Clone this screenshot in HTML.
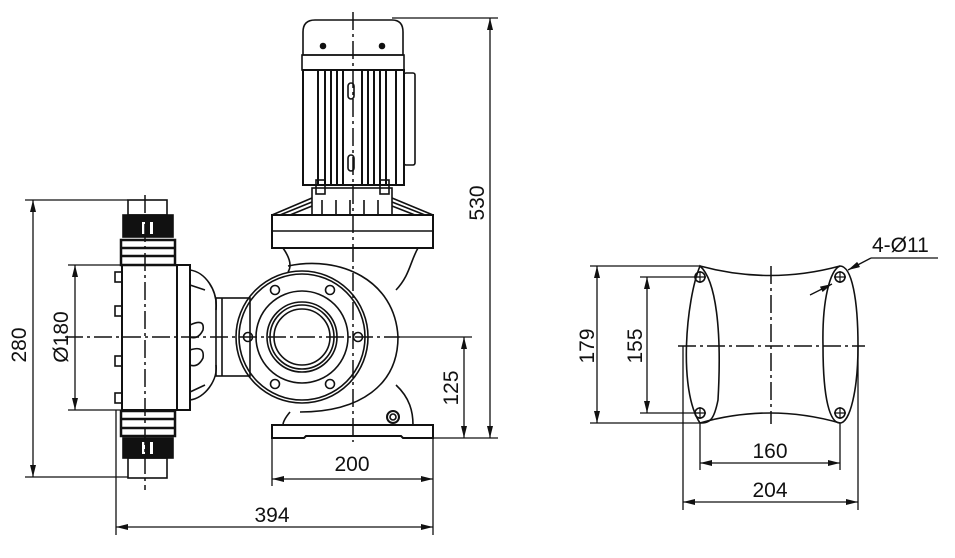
<!DOCTYPE html>
<html><head><meta charset="utf-8"><style>
html,body{margin:0;padding:0;background:#fff}
svg{display:block}
text{font-family:"Liberation Sans",sans-serif;font-size:21px;fill:#111}
</style></head><body>
<svg width="955" height="558" viewBox="0 0 955 558" xmlns="http://www.w3.org/2000/svg">
<defs>
<marker id="a" viewBox="0 0 12 6" refX="12" refY="3" markerWidth="12" markerHeight="6" orient="auto-start-reverse" markerUnits="userSpaceOnUse"><path d="M0,0 L12,3 L0,6 Z" fill="#111"/></marker>
</defs>
<g fill="none" stroke="#111" stroke-width="1.6">
<!-- motor -->
<path d="M303,55 L303,32 Q303,20 315,20 L392,20 Q403,20 403,32 L403,55 Z"/>
<rect x="302" y="55" width="102" height="15"/>
<rect x="303" y="70" width="101" height="115" stroke-width="2"/>
<rect x="404" y="73" width="11" height="92" rx="2"/>
<g stroke-width="2">
<line x1="318" y1="70" x2="318" y2="185"/><line x1="325" y1="70" x2="325" y2="185"/>
<line x1="331" y1="70" x2="331" y2="185"/><line x1="337" y1="70" x2="337" y2="185"/>
<line x1="343" y1="70" x2="343" y2="185"/><line x1="362" y1="70" x2="362" y2="185"/>
<line x1="368" y1="70" x2="368" y2="185"/><line x1="374" y1="70" x2="374" y2="185"/>
<line x1="380" y1="70" x2="380" y2="185"/><line x1="386" y1="70" x2="386" y2="185"/>
<line x1="396" y1="70" x2="396" y2="185"/>
</g>
<rect x="348" y="83" width="6" height="16" rx="3"/><rect x="348" y="155" width="6" height="16" rx="3"/>
<circle cx="323" cy="46" r="2.5" fill="#111"/><circle cx="382" cy="46" r="2.5" fill="#111"/>
<rect x="312" y="188" width="80" height="27"/>
<rect x="316" y="180" width="9" height="14"/><rect x="380" y="180" width="9" height="14"/>
<path d="M322,215 V200 M336,215 V200 M350,215 V200 M364,215 V200 M378,215 V200"/>
<path d="M272,215 L312,198 M280,215 L312,202 M290,215 L312,206 M433,215 L392,198 M425,215 L392,202 M415,215 L392,206"/>
<rect x="272" y="215" width="161" height="33" stroke-width="2"/>
<line x1="272" y1="231" x2="433" y2="231"/>
<!-- housing volute -->
<path d="M283,248 C290,258 292,266 288,272 M418,248 C410,262 410,275 396,290"/>
<path d="M288,266 C340,255 395,280 398,337 C398,385 360,412 300,412"/>
<path d="M396,385 C410,398 413,412 413,425 M290,412 C285,418 283,422 283,425"/>
<circle cx="302" cy="337" r="66"/><circle cx="302" cy="337" r="63"/>
<circle cx="302" cy="337" r="46"/>
<circle cx="302" cy="337" r="35"/><circle cx="302" cy="337" r="32"/><circle cx="302" cy="337" r="28"/>
<circle cx="275" cy="290" r="4.5"/><circle cx="330" cy="290" r="4.5"/>
<circle cx="248" cy="337" r="4.5"/><circle cx="358" cy="337" r="4.5"/>
<circle cx="275" cy="384" r="4.5"/><circle cx="330" cy="384" r="4.5"/>
<circle cx="393" cy="417" r="6" stroke-width="2"/><circle cx="393" cy="417" r="3"/>
<!-- base plate -->
<path d="M272,425 H433 V438 H403 L401,436 H306 L304,438 H272 Z" stroke-width="2"/>
<!-- neck -->
<rect x="216" y="298" width="34" height="78"/><line x1="222" y1="298" x2="222" y2="376"/>
<!-- lobes -->
<path d="M190,270 C205,272 218,290 216,310 M190,400 C205,398 218,380 216,365"/>
<path d="M190,285 L205,290 M190,325 Q205,318 203,330 Q198,340 190,337 M190,350 Q205,345 203,358 Q198,368 190,365 M190,392 L205,385"/>
<!-- head -->
<rect x="122" y="265" width="68" height="145" stroke-width="2"/>
<line x1="177" y1="265" x2="177" y2="410" stroke-width="2"/>
<rect x="115" y="272" width="7" height="10"/><rect x="115" y="306" width="7" height="10"/>
<rect x="115" y="356" width="7" height="10"/><rect x="115" y="393" width="7" height="10"/>
<!-- top valve -->
<rect x="128" y="200" width="39" height="15"/>
<rect x="123" y="215" width="50" height="22" fill="#111"/>
<rect x="121" y="240" width="54" height="25" stroke-width="2.5"/>
<path d="M121,248 H175 M121,256 H175" stroke-width="2.5"/>
<!-- bottom valve -->
<rect x="121" y="411" width="54" height="25" stroke-width="2.5"/>
<path d="M121,419 H175 M121,428 H175" stroke-width="2.5"/>
<rect x="123" y="438" width="50" height="20" fill="#111"/>
<rect x="128" y="458" width="39" height="20"/>
</g>
<g fill="#fff"><rect x="142" y="222" width="3" height="12"/><rect x="150" y="222" width="3" height="12"/><rect x="142" y="442" width="3" height="12"/><rect x="150" y="442" width="3" height="12"/></g>
<!-- center lines -->
<g stroke="#111" stroke-width="1.5" stroke-dasharray="18,4,3,4" fill="none">
<line x1="353" y1="12" x2="353" y2="442"/>
<line x1="145" y1="195" x2="145" y2="490"/>
<line x1="65" y1="337" x2="400" y2="337"/>
<line x1="678" y1="346" x2="865" y2="346"/>
<line x1="771" y1="266" x2="771" y2="424"/>
</g>
<!-- dims left -->
<g stroke="#111" stroke-width="1.3" fill="none">
<line x1="25" y1="200" x2="128" y2="200"/><line x1="25" y1="477" x2="128" y2="477"/>
<line x1="33" y1="200" x2="33" y2="477" marker-start="url(#a)" marker-end="url(#a)"/>
<line x1="68" y1="265" x2="122" y2="265"/><line x1="68" y1="410" x2="122" y2="410"/>
<line x1="75" y1="265" x2="75" y2="410" marker-start="url(#a)" marker-end="url(#a)"/>
<line x1="116" y1="410" x2="116" y2="535"/><line x1="433" y1="438" x2="433" y2="535"/>
<line x1="116" y1="527" x2="433" y2="527" marker-start="url(#a)" marker-end="url(#a)"/>
<line x1="272" y1="438" x2="272" y2="486"/>
<line x1="272" y1="479" x2="433" y2="479" marker-start="url(#a)" marker-end="url(#a)"/>
<line x1="400" y1="337" x2="472" y2="337"/><line x1="433" y1="438" x2="498" y2="438"/>
<line x1="464" y1="337" x2="464" y2="438" marker-start="url(#a)" marker-end="url(#a)"/>
<line x1="392" y1="18" x2="498" y2="18"/>
<line x1="490" y1="18" x2="490" y2="438" marker-start="url(#a)" marker-end="url(#a)"/>
</g>
<text transform="translate(26,345) rotate(-90)" text-anchor="middle">280</text>
<text transform="translate(68,337) rotate(-90)" text-anchor="middle">Ø180</text>
<text x="272" y="522" text-anchor="middle">394</text>
<text x="352" y="471" text-anchor="middle">200</text>
<text transform="translate(458,388) rotate(-90)" text-anchor="middle">125</text>
<text transform="translate(484,203) rotate(-90)" text-anchor="middle">530</text>
<!-- right view -->
<g stroke="#111" stroke-width="1.6" fill="none">
<path d="M700,266 C686,300 678,390 700,423 C710,423 714,420 718,400 C722,330 716,280 700,266 Z"/>
<path d="M840,266 C830,270 822,300 823,346 C823,400 830,423 840,423 C850,423 858,390 858,346 C858,300 852,266 840,266 Z"/>
<path d="M700,266 Q770,285 840,266"/>
<path d="M700,423 Q770,403 840,423"/>
<circle cx="700" cy="277" r="5"/><circle cx="840" cy="277" r="5"/>
<circle cx="700" cy="413" r="5"/><circle cx="840" cy="413" r="5"/>
<path d="M694,277 H706 M700,271 V283 M834,277 H846 M840,271 V283 M694,413 H706 M700,407 V419 M834,413 H846 M840,407 V419" stroke-width="1.2"/>
</g>
<g stroke="#111" stroke-width="1.3" fill="none">
<line x1="590" y1="266" x2="700" y2="266"/><line x1="590" y1="423" x2="700" y2="423"/>
<line x1="597" y1="266" x2="597" y2="423" marker-start="url(#a)" marker-end="url(#a)"/>
<line x1="640" y1="277" x2="700" y2="277"/><line x1="640" y1="413" x2="700" y2="413"/>
<line x1="647" y1="277" x2="647" y2="413" marker-start="url(#a)" marker-end="url(#a)"/>
<line x1="700" y1="423" x2="700" y2="470"/><line x1="840" y1="423" x2="840" y2="470"/>
<line x1="700" y1="463" x2="840" y2="463" marker-start="url(#a)" marker-end="url(#a)"/>
<line x1="683" y1="346" x2="683" y2="510"/><line x1="858" y1="346" x2="858" y2="510"/>
<line x1="683" y1="502" x2="858" y2="502" marker-start="url(#a)" marker-end="url(#a)"/>
<line x1="938" y1="258" x2="871" y2="258"/>
<line x1="871" y1="258" x2="848" y2="270" marker-end="url(#a)"/>
<line x1="810" y1="295" x2="832" y2="284" marker-end="url(#a)"/>
</g>
<text transform="translate(594,346) rotate(-90)" text-anchor="middle">179</text>
<text transform="translate(642,346) rotate(-90)" text-anchor="middle">155</text>
<text x="770" y="458" text-anchor="middle">160</text>
<text x="770" y="497" text-anchor="middle">204</text>
<text x="872" y="252">4-Ø11</text>
</svg>
</body></html>
